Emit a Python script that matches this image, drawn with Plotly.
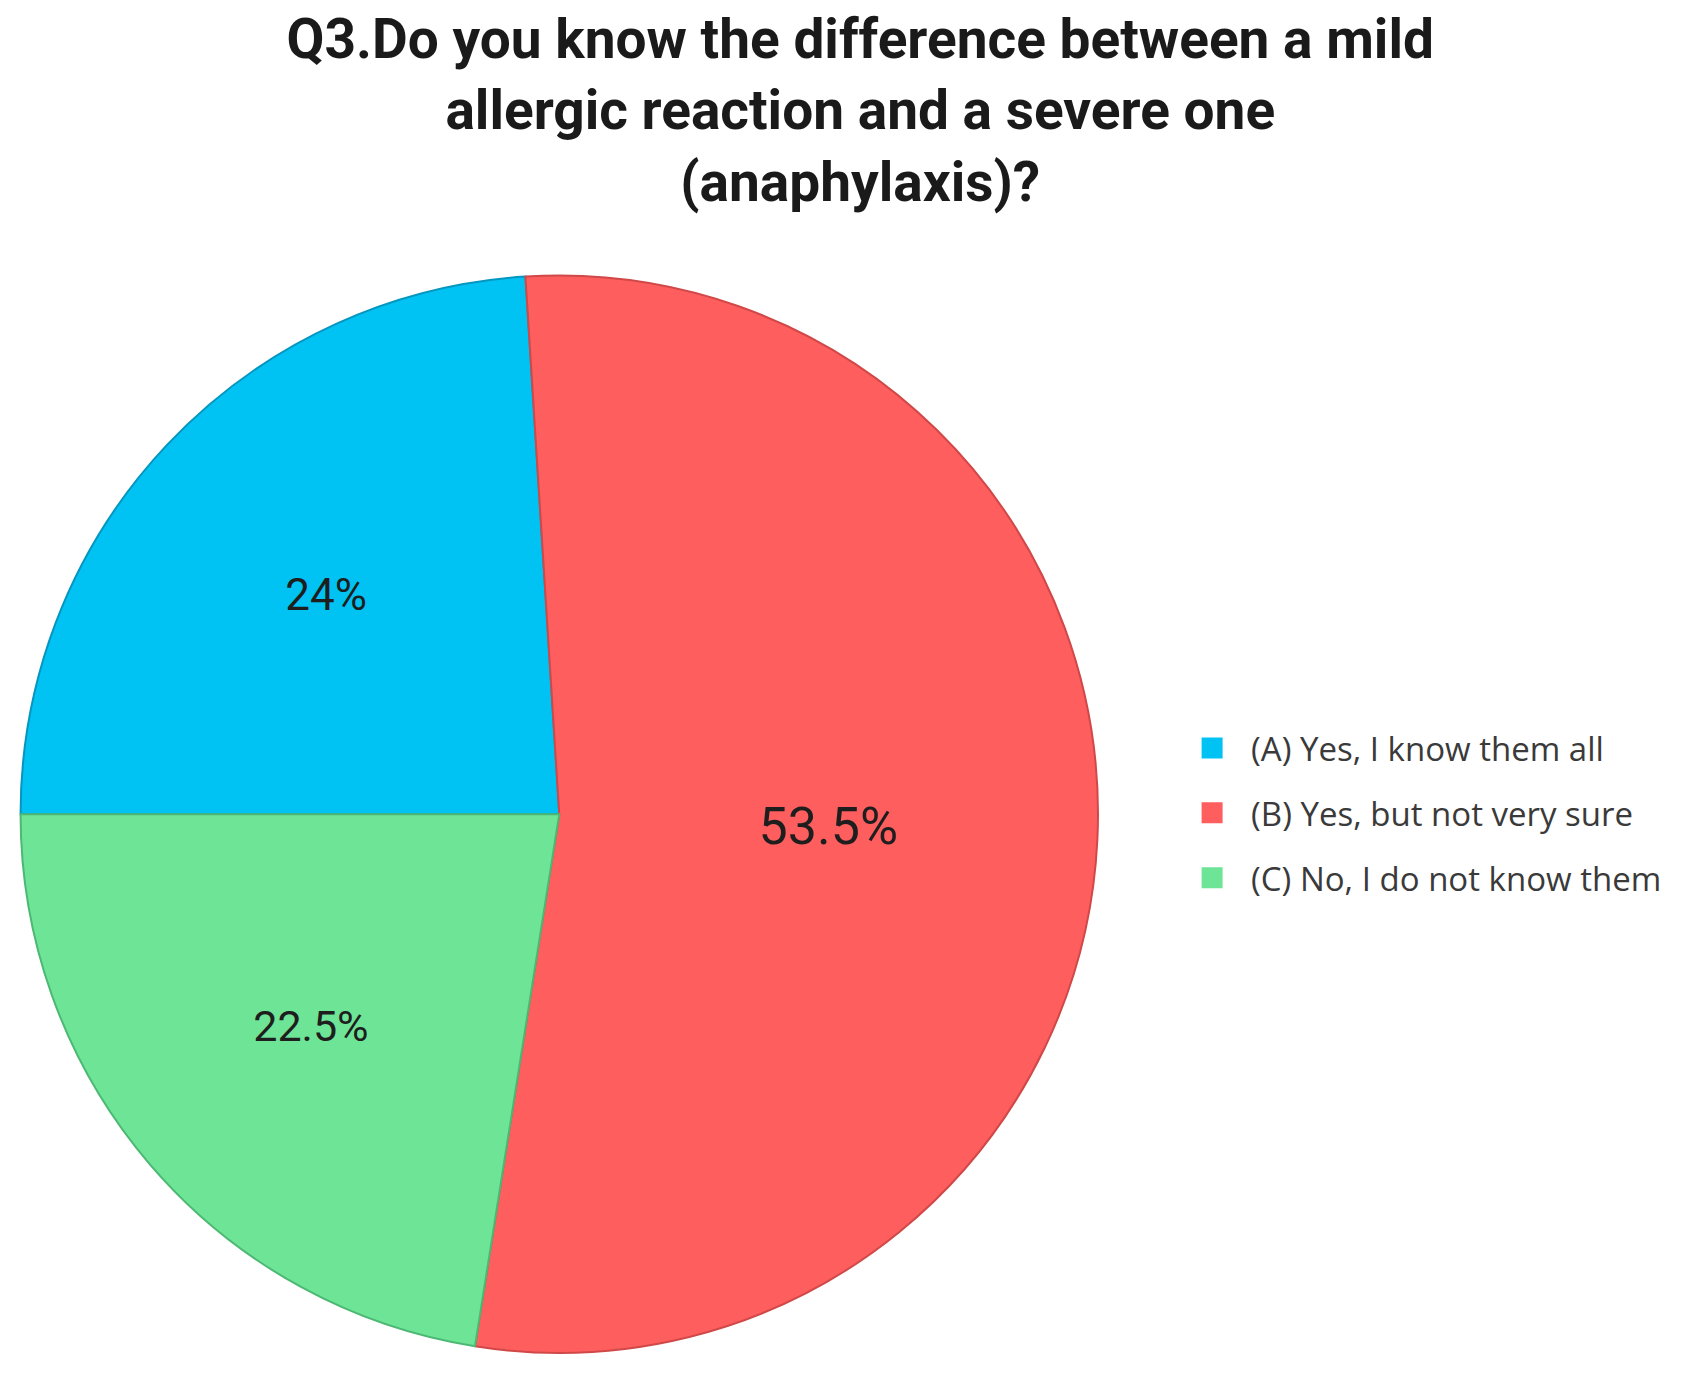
import plotly.graph_objects as go

# survey answers to Q3
labels = ["(A) Yes, I know them all", "(B) Yes, but not very sure", "(C) No, I do not know them"]
values = [24, 53.5, 22.5]
slice_text = ["24%", "53.5%", "22.5%"]

colors = ["#00C3F3", "#FF5E5E", "#6EE596"]
edge_colors = ["#0596C0", "#D04848", "#4CB874"]

fig = go.Figure()

fig.add_trace(go.Pie(
    labels=labels,
    values=values,
    text=slice_text,
    textinfo="text",
    textposition="inside",
    insidetextorientation="horizontal",
    textfont=dict(family="Roboto", size=[44, 52, 43], color="#1E1E1E"),
    marker=dict(colors=colors, line=dict(color=edge_colors, width=2)),
    sort=False,
    direction="clockwise",
    rotation=270,
    showlegend=False,
    domain=dict(x=[0.0, 0.652], y=[0.0226, 0.8056]),
))

# legend entries with bigger square swatches
for lab, c in zip(labels, colors):
    fig.add_trace(go.Scatter(
        x=[None], y=[None], mode="markers", name=lab, legendgroup=lab,
        marker=dict(symbol="square", size=16, color=c, line=dict(color=c, width=5)),
    ))

fig.update_layout(
    width=1691,
    height=1376,
    margin=dict(l=0, r=0, t=0, b=0),
    paper_bgcolor="white",
    plot_bgcolor="white",
    xaxis=dict(visible=False),
    yaxis=dict(visible=False),
    title=dict(
        text="Q3.Do you know the difference between a mild<br>allergic reaction and a severe one<br>(anaphylaxis)?",
        x=0.504, xanchor="center",
        y=0.964, yanchor="top",
        font=dict(family="Roboto", size=55, color="#1A1A1A", weight="bold"),
    ),
    legend=dict(
        x=0.689, xanchor="left",
        y=0.415, yanchor="middle",
        font=dict(family="Open Sans", size=33, color="#3A3A3A"),
        itemsizing="trace",
        itemwidth=68,
        tracegroupgap=19,
        bgcolor="rgba(0,0,0,0)",
    ),
)

fig.write_html("out.html")
